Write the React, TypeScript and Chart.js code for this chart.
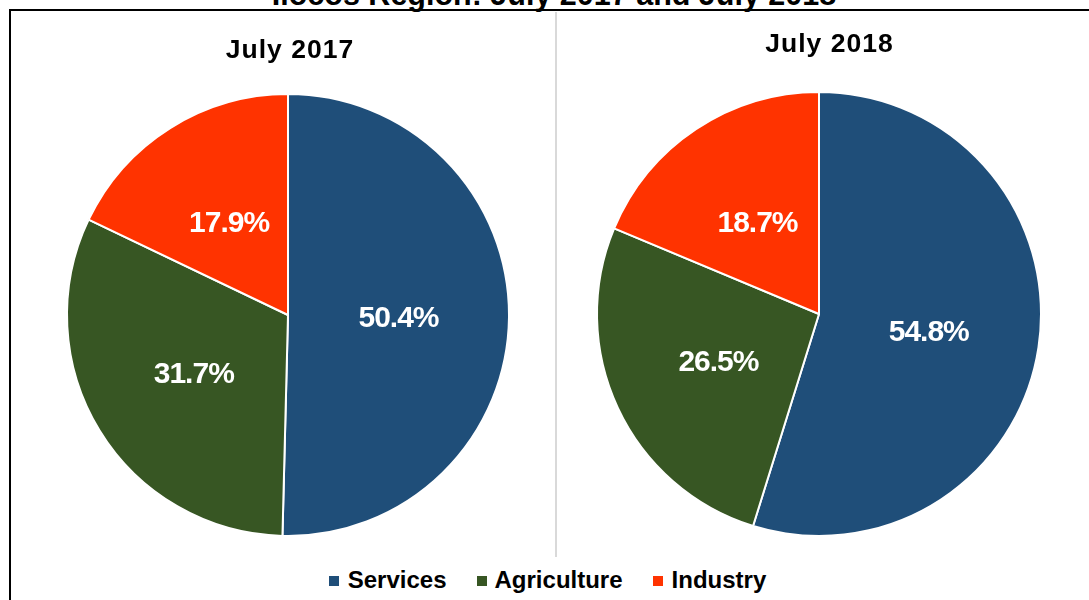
import React, { useEffect, useRef } from "react";
import { Chart, registerables } from "chart.js";

Chart.register(...registerables);

const categories = ["Services", "Agriculture", "Industry"];
const values2017 = [50.4, 31.7, 17.9];
const values2018 = [54.8, 26.5, 18.7];
const panelTitles = ["July 2017", "July 2018"];
const mainTitle = "Ilocos Region: July 2017 and July 2018";
const sliceColors = ["#1F4E79", "#375623", "#FF3300"];

const FONT = '"Liberation Sans", Arial, Helvetica, sans-serif';

const pctLabels = {
  id: "pctLabels",
  afterDatasetsDraw(chart: any) {
    const ctx = chart.ctx;
    const meta = chart.getDatasetMeta(0);
    const data = chart.data.datasets[0].data as number[];
    ctx.save();
    ctx.font = `bold 30px ${FONT}`;
    try { (ctx as any).letterSpacing = "-1px"; } catch (e) {}
    ctx.fillStyle = "#ffffff";
    ctx.textAlign = "center";
    ctx.textBaseline = "middle";
    meta.data.forEach((arc: any, i: number) => {
      const p = arc.getCenterPoint();
      ctx.fillText(`${data[i].toFixed(1)}%`, p.x, p.y + 2);
    });
    ctx.restore();
  },
};

const panelTitle = {
  id: "panelTitle",
  afterDraw(chart: any, _args: any, opts: any) {
    if (!opts || !opts.text) return;
    const ctx = chart.ctx;
    ctx.save();
    ctx.font = `bold 26.5px ${FONT}`;
    try { (ctx as any).letterSpacing = "1px"; } catch (e) {}
    ctx.fillStyle = "#000000";
    ctx.textAlign = "center";
    ctx.textBaseline = "alphabetic";
    ctx.fillText(opts.text, opts.x, opts.y);
    ctx.restore();
  },
};

type PieProps = {
  values: number[];
  title: string;
  titleX: number;
  titleY: number;
  padding: { left: number; right: number; top: number; bottom: number };
  left: number;
  top: number;
  width: number;
  height: number;
};

function PiePanel(props: PieProps) {
  const ref = useRef<HTMLCanvasElement>(null);
  useEffect(() => {
    const chart = new Chart(ref.current as HTMLCanvasElement, {
      type: "pie",
      data: {
        labels: categories,
        datasets: [
          {
            data: props.values,
            backgroundColor: sliceColors,
            borderColor: "#ffffff",
            borderWidth: 2,
          },
        ],
      },
      options: {
        responsive: false,
        animation: false,
        devicePixelRatio: 1,
        layout: { padding: props.padding },
        plugins: {
          legend: { display: false },
          tooltip: { enabled: false },
          title: { display: false },
          panelTitle: { text: props.title, x: props.titleX, y: props.titleY },
        } as any,
      },
      plugins: [pctLabels, panelTitle],
    });
    return () => chart.destroy();
  }, []);
  return (
    <canvas
      ref={ref}
      width={props.width}
      height={props.height}
      style={{
        position: "absolute",
        left: props.left,
        top: props.top,
        width: props.width,
        height: props.height,
      }}
    />
  );
}

export default function App() {
  const legendItems = categories.map((c, i) => (
    <div
      key={c}
      style={{
        display: "flex",
        alignItems: "center",
        marginRight: i < categories.length - 1 ? 30 : 0,
      }}
    >
      <span
        style={{
          display: "inline-block",
          width: 10,
          height: 10,
          background: sliceColors[i],
          marginRight: i === 1 ? 8 : 9,
          marginTop: 2,
        }}
      />
      <span>{c}</span>
    </div>
  ));

  return (
    <div
      style={{
        position: "fixed",
        left: 0,
        top: 0,
        width: 1089,
        height: 600,
        overflow: "hidden",
        background: "#ffffff",
      }}
    >
      <div
        style={{
          position: "absolute",
          left: -46,
          width: 1200,
          top: -21,
          height: 31,
          lineHeight: "30.5px",
          fontFamily: FONT,
          fontWeight: "bold",
          fontSize: "30.5px",
          textAlign: "center",
          color: "#000",
          whiteSpace: "nowrap",
        }}
      >
        {mainTitle}
      </div>
      <div
        style={{
          position: "absolute",
          left: 9,
          top: 9,
          width: 1200,
          height: 700,
          borderLeft: "2px solid #000",
          borderTop: "2px solid #000",
        }}
      />
      <div
        style={{
          position: "absolute",
          left: 555,
          top: 12,
          width: 2,
          height: 545,
          background: "#D9D9D9",
        }}
      />
      <PiePanel
        values={values2017}
        title={panelTitles[0]}
        titleX={278}
        titleY={46.3}
        padding={{ left: 54, right: 44, top: 81, bottom: 18 }}
        left={12}
        top={12}
        width={542}
        height={543}
      />
      <PiePanel
        values={values2018}
        title={panelTitles[1]}
        titleX={271.5}
        titleY={39.7}
        padding={{ left: 38, right: 47, top: 79, bottom: 18 }}
        left={558}
        top={12}
        width={531}
        height={543}
      />
      <div
        style={{
          position: "absolute",
          left: 3,
          width: 1089,
          top: 566,
          height: 28,
          lineHeight: "28px",
          display: "flex",
          justifyContent: "center",
          alignItems: "center",
          fontFamily: FONT,
          fontWeight: "bold",
          fontSize: "24px",
          color: "#000",
          whiteSpace: "nowrap",
        }}
      >
        {legendItems}
      </div>
    </div>
  );
}
